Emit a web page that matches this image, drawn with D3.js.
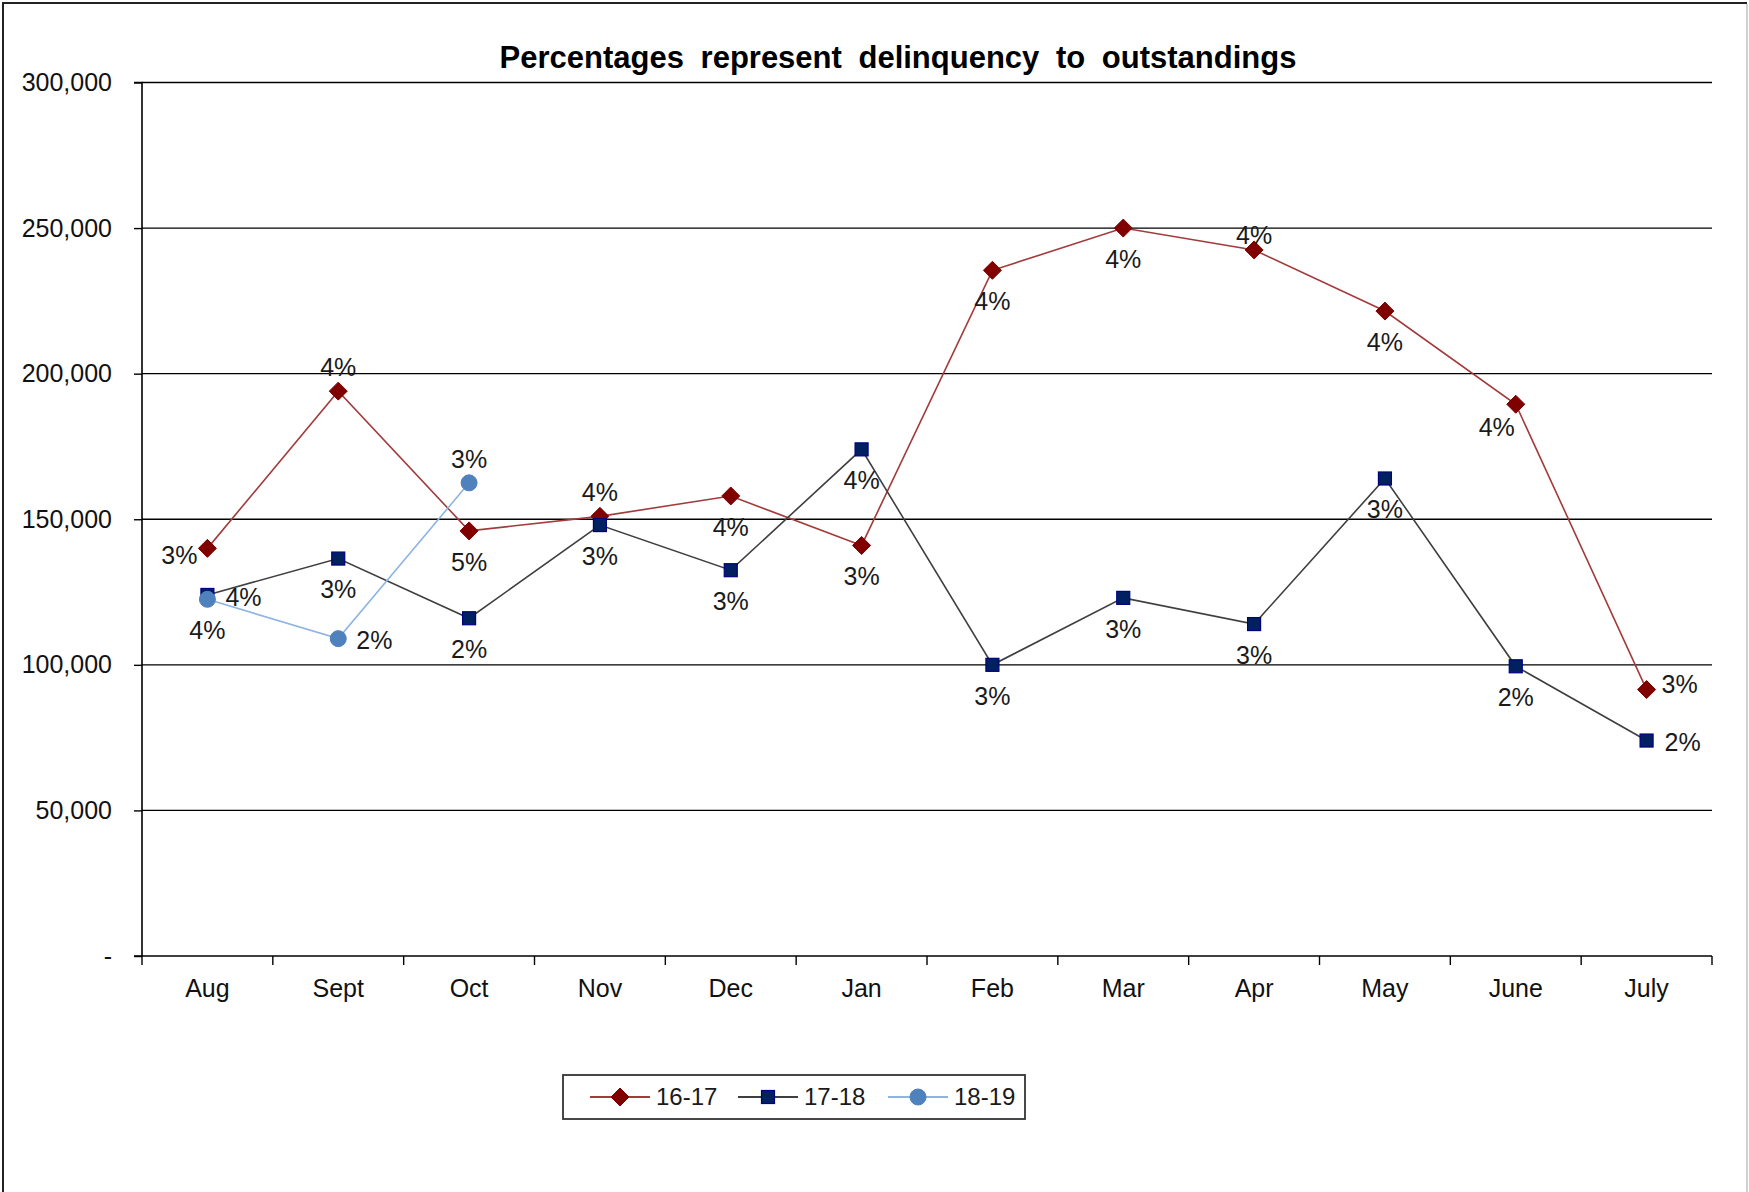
<!DOCTYPE html>
<html>
<head>
<meta charset="utf-8">
<script src="https://cdn.jsdelivr.net/npm/d3@7"></script>
<style>
  html, body { margin: 0; padding: 0; background: #fff; }
  svg { display: block; font-family: "Liberation Sans", Arial, sans-serif; }
</style>
</head>
<body>
<svg id="chart" width="1749" height="1192"></svg>
<script>
// Monthly delinquency amounts by fiscal year
const months = ["Aug", "Sept", "Oct", "Nov", "Dec", "Jan", "Feb", "Mar", "Apr", "May", "June", "July"];
const yTicks = [0, 50000, 100000, 150000, 200000, 250000, 300000];
const seriesNames = ["16-17", "17-18", "18-19"];

const values1617 = [140000, 194000, 146000, 151000, 158000, 141000, 235500, 250000, 242500, 221500, 189500, 91500];
const values1718 = [124000, 136500, 116000, 148000, 132500, 174000, 100000, 123000, 114000, 164000, 99500, 74000];
const values1819 = [122500, 109000, 162500];

// Delinquency-to-outstandings ratios shown beside each point
const pct1617 = ["3%", "4%", "5%", "4%", "4%", "3%", "4%", "4%", "4%", "4%", "4%", "3%"];
const pct1718 = ["4%", "3%", "2%", "3%", "3%", "4%", "3%", "3%", "3%", "3%", "2%", "2%"];
const pct1819 = ["4%", "2%", "3%"];

// Where each ratio label sits relative to its marker
const place1617 = ["l", "a", "b", "a", "b", "b", "b", "b", "at", "b", "bl", "ru"];
const place1718 = ["r", "b", "b", "b", "b", "b", "b", "b", "b", "b", "b", "r"];
const place1819 = ["b", "r", "a"];

(function () {
const svg = d3.select("#chart");
const W = 1749, H = 1192;

// outer frame: dark top/left edges, light right edge
svg.append("path").attr("d", `M3,${H}V3H${W - 2}`)
  .attr("fill", "none").attr("stroke", "#222").attr("stroke-width", 2);
svg.append("line").attr("x1", W - 2).attr("x2", W - 2).attr("y1", 4).attr("y2", H)
  .attr("stroke", "#d0d0d0").attr("stroke-width", 2);

const plotLeft = 142, plotRight = 1712, plotTop = 82.5, plotBottom = 956;

const x = d3.scaleBand().domain(months).range([plotLeft, plotRight]).paddingInner(0).paddingOuter(0);
const xc = d => x(d) + x.bandwidth() / 2;
const y = d3.scaleLinear().domain([0, 300000]).range([plotBottom, plotTop]);

// title
svg.append("text")
  .attr("x", 898).attr("y", 68)
  .attr("text-anchor", "middle")
  .attr("font-size", 31).attr("font-weight", "bold")
  .attr("word-spacing", 8)
  .attr("fill", "#000")
  .text("Percentages represent delinquency to outstandings");

// horizontal gridlines
svg.append("g").selectAll("line").data(yTicks.filter(t => t > 0)).join("line")
  .attr("x1", plotLeft).attr("x2", plotRight)
  .attr("y1", d => y(d)).attr("y2", d => y(d))
  .attr("stroke", "#000").attr("stroke-width", 1.4);

// y axis
const fmt = d3.format(",");
const yAxis = svg.append("g").attr("transform", `translate(${plotLeft},0)`)
  .call(d3.axisLeft(y).tickValues(yTicks).tickSize(8).tickPadding(22)
    .tickFormat(d => d === 0 ? "-" : fmt(d)));
yAxis.select(".domain").attr("stroke", "#000").attr("stroke-width", 1.6)
  .attr("d", `M-8,${plotTop}H0V${plotBottom}H-8`);
yAxis.selectAll(".tick line").attr("stroke", "#000").attr("stroke-width", 1.4);
yAxis.selectAll(".tick text").attr("font-size", 25).attr("fill", "#111")
  .attr("font-family", "Liberation Sans, Arial, sans-serif");

// x axis with ticks at the category boundaries
const xAxisG = svg.append("g").attr("transform", `translate(0,${plotBottom})`);
xAxisG.append("line").attr("x1", plotLeft).attr("x2", plotRight).attr("y1", 0).attr("y2", 0)
  .attr("stroke", "#000").attr("stroke-width", 1.6);
const boundaries = months.map(m => x(m)).concat([plotRight]);
xAxisG.selectAll("line.tk").data(boundaries).join("line").attr("class", "tk")
  .attr("x1", d => d).attr("x2", d => d).attr("y1", 0).attr("y2", 9)
  .attr("stroke", "#000").attr("stroke-width", 1.4);
xAxisG.selectAll("text").data(months).join("text")
  .attr("x", d => xc(d)).attr("y", 41)
  .attr("text-anchor", "middle").attr("font-size", 25).attr("fill", "#111")
  .text(d => d);

// series definitions
const series = [
  { name: seriesNames[0], values: values1617, pct: pct1617, place: place1617,
    line: "#a23b3b", lineWidth: 1.6, fill: "#800000", stroke: "#800000", shape: "diamond" },
  { name: seriesNames[1], values: values1718, pct: pct1718, place: place1718,
    line: "#3f3f3f", lineWidth: 1.6, fill: "#002060", stroke: "#000080", shape: "square" },
  { name: seriesNames[2], values: values1819, pct: pct1819, place: place1819,
    line: "#8db4e2", lineWidth: 1.6, fill: "#4f81bd", stroke: "#4f81bd", shape: "circle" }
];

function drawMarker(g, shape, cx, cy, fill, stroke) {
  if (shape === "diamond") {
    const r = 9;
    g.append("path").attr("d", `M${cx},${cy - r}L${cx + r},${cy}L${cx},${cy + r}L${cx - r},${cy}Z`)
      .attr("fill", fill).attr("stroke", stroke).attr("stroke-width", 1);
  } else if (shape === "square") {
    const s = 13;
    g.append("rect").attr("x", cx - s / 2).attr("y", cy - s / 2).attr("width", s).attr("height", s)
      .attr("fill", fill).attr("stroke", stroke).attr("stroke-width", 1.2);
  } else {
    g.append("circle").attr("cx", cx).attr("cy", cy).attr("r", 8)
      .attr("fill", fill).attr("stroke", stroke).attr("stroke-width", 1);
  }
}

const lineGen = d3.line().x((d, i) => xc(months[i])).y(d => y(d));

// lines first, then markers, then labels
series.forEach(s => {
  svg.append("path").datum(s.values).attr("d", lineGen)
    .attr("fill", "none").attr("stroke", s.line).attr("stroke-width", s.lineWidth);
});
series.forEach(s => {
  const g = svg.append("g");
  s.values.forEach((v, i) => drawMarker(g, s.shape, xc(months[i]), y(v), s.fill, s.stroke));
});

const offsets = {
  a:  { dx: 0,   dy: -24, anchor: "middle" },
  at: { dx: 0,   dy: -15, anchor: "middle" },
  b:  { dx: 0,   dy: 31,  anchor: "middle" },
  bl: { dx: -19, dy: 23,  anchor: "middle" },
  l:  { dx: -10, dy: 7,   anchor: "end" },
  r:  { dx: 18,  dy: 2,   anchor: "start" },
  ru: { dx: 15,  dy: -5,  anchor: "start" }
};
series.forEach(s => {
  svg.append("g").selectAll("text").data(s.values).join("text")
    .attr("x", (d, i) => xc(months[i]) + offsets[s.place[i]].dx)
    .attr("y", (d, i) => y(d) + offsets[s.place[i]].dy)
    .attr("dy", "0.35em")
    .attr("text-anchor", (d, i) => offsets[s.place[i]].anchor)
    .attr("font-size", 25).attr("fill", "#1a1a1a")
    .text((d, i) => s.pct[i]);
});

// legend
const lg = svg.append("g");
lg.append("rect").attr("x", 563).attr("y", 1075).attr("width", 462).attr("height", 44)
  .attr("fill", "#fff").attr("stroke", "#333").attr("stroke-width", 1.8);
const legendX = [590, 738, 888];
series.forEach((s, i) => {
  const lx = legendX[i], ly = 1097;
  lg.append("line").attr("x1", lx).attr("x2", lx + 60).attr("y1", ly).attr("y2", ly)
    .attr("stroke", s.line).attr("stroke-width", 2);
  drawMarker(lg, s.shape, lx + 30, ly, s.fill, s.stroke);
  lg.append("text").attr("x", lx + 66).attr("y", ly).attr("dy", "0.35em")
    .attr("font-size", 24).attr("fill", "#1a1a1a").text(s.name);
});
})();
</script>
</body>
</html>
